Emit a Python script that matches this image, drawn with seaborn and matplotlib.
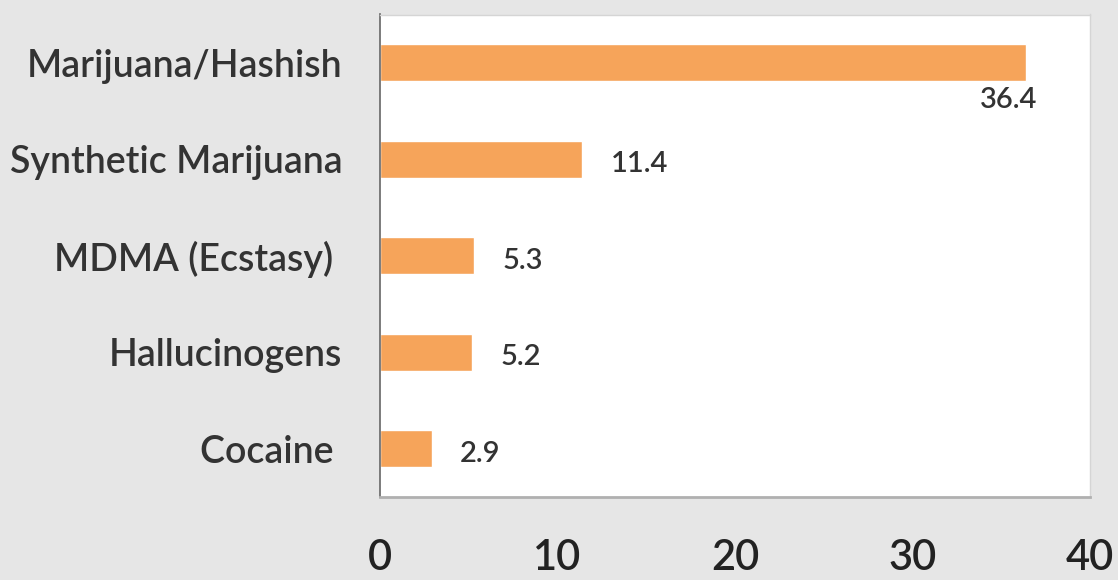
import matplotlib
matplotlib.use("Agg")
import matplotlib.pyplot as plt
import pandas as pd
import seaborn as sns

drugs = ["Marijuana/Hashish", "Synthetic Marijuana", "MDMA (Ecstasy) ", "Hallucinogens", "Cocaine "]
percent = [36.4, 11.4, 5.3, 5.2, 2.9]
x_ticks = [0, 10, 20, 30, 40]

BG = "#e6e6e6"
BAR = "#f6a45a"


def main() -> None:
    sns.set_theme(style="white")
    plt.rcParams["font.family"] = ["Lato", "DejaVu Sans"]
    df = pd.DataFrame({"drug": drugs, "percent": percent})

    fig = plt.figure(figsize=(11.18, 5.8), dpi=100, facecolor=BG)
    ax = fig.add_axes([0.340, 0.143, 0.635, 0.832])
    ax.set_facecolor("white")

    sns.barplot(data=df, x="percent", y="drug", orient="h", color=BAR,
                width=0.38, saturation=1, ax=ax)

    for i, v in enumerate(percent):
        if i == 0:
            ax.text(v + 0.6, i + 0.39, f"{v}", ha="right", va="center",
                    fontsize=21, color="#333333", fontweight="semibold")
        else:
            ax.text(v + 1.6, i + 0.05, f"{v}", ha="left", va="center",
                    fontsize=21, color="#333333", fontweight="semibold")

    ax.set_xlim(0, 40)
    ax.set_ylim(4.5, -0.5)
    ax.set_xticks(x_ticks)
    ax.set_xlabel("")
    ax.set_ylabel("")
    ax.tick_params(axis="x", length=0, pad=30, labelsize=30, labelcolor="#222222")
    ax.tick_params(axis="y", length=0, pad=27, labelsize=27, labelcolor="#333333")
    for lab in ax.get_xticklabels() + ax.get_yticklabels():
        lab.set_fontweight("semibold")
    ax.xaxis.grid(False)
    ax.yaxis.grid(False)

    for side in ["top", "right"]:
        ax.spines[side].set_color("#d5d5d5")
        ax.spines[side].set_linewidth(1)
    ax.spines["bottom"].set_color("#b0b0b0")
    ax.spines["bottom"].set_linewidth(2)
    ax.spines["left"].set_color("#666666")
    ax.spines["left"].set_linewidth(1.2)

    fig.savefig("out.png", dpi=100, facecolor=BG)
    plt.close(fig)


if __name__ == "__main__":
    main()
